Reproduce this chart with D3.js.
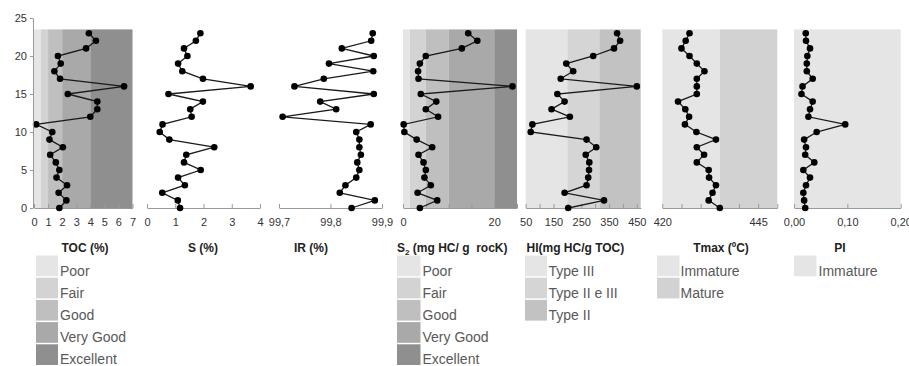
<!DOCTYPE html>
<html>
<head>
<meta charset="utf-8">
<script src="https://cdn.jsdelivr.net/npm/d3@7"></script>
<style>
  html, body { margin: 0; padding: 0; background: #fff; }
  svg { display: block; font-family: "Liberation Sans", Arial, sans-serif; }
  .tick text { font-size: 11px; fill: #333; }
  .legend text { font-size: 14px; fill: #595959; }
  .title { font-size: 12px; font-weight: bold; fill: #222; white-space: pre; }
</style>
</head>
<body>
<div id="chart"></div>
<script>
"use strict";

// depth (m), one sample per metre
const depth = [0, 1, 2, 3, 4, 5, 6, 7, 8, 9, 10, 11, 12, 13, 14, 15, 16, 17, 18, 19, 20, 21, 22, 23];

const toc  = [1.8, 2.3, 1.75, 2.35, 1.6, 1.8, 1.55, 1.15, 2.05, 1.1, 1.3, 0.15, 4.0, 4.5, 4.5, 2.4, 6.4, 1.85, 1.45, 1.9, 1.7, 3.7, 4.4, 3.9];
const sul  = [1.17, 1.09, 0.54, 1.34, 1.10, 1.90, 1.31, 1.39, 2.38, 0.79, 0.45, 0.55, 1.58, 1.53, 1.98, 0.76, 3.67, 1.98, 1.25, 1.10, 1.43, 1.31, 1.73, 1.89];
const ir   = [99.841, 99.886, 99.818, 99.829, 99.850, 99.856, 99.852, 99.859, 99.856, 99.856, 99.850, 99.878, 99.707, 99.811, 99.780, 99.884, 99.730, 99.787, 99.883, 99.797, 99.884, 99.822, 99.879, 99.882];
const s2   = [3.7, 7.5, 3.2, 6.1, 4.7, 5.0, 4.5, 3.4, 6.4, 3.0, 0.3, 0.15, 7.7, 5.0, 7.3, 3.9, 24.0, 3.4, 3.3, 3.7, 5.0, 12.9, 16.3, 14.3];
const hi   = [203, 332, 190, 269, 275, 278, 279, 266, 304, 269, 68, 74, 209, 143, 190, 164, 450, 176, 221, 196, 293, 368, 390, 379];
const tmax = [435.0, 432.1, 433.1, 434.0, 432.2, 432.1, 429.0, 430.9, 429.0, 434.0, 428.9, 425.9, 427.0, 426.0, 424.1, 429.0, 429.0, 429.0, 431.0, 429.0, 427.1, 425.0, 426.1, 427.1];
const pi   = [0.021, 0.019, 0.0175, 0.0225, 0.030, 0.0175, 0.038, 0.021, 0.0225, 0.019, 0.0425, 0.096, 0.027, 0.030, 0.035, 0.014, 0.016, 0.035, 0.024, 0.024, 0.025, 0.030, 0.0225, 0.022];

// tick values and the ones that carry a label
const depthTicks = [0, 5, 10, 15, 20, 25];
const tocTicks   = [0, 1, 2, 3, 4, 5, 6, 7];
const sulTicks   = [0, 1, 2, 3, 4];
const irTicks    = [99.7, 99.8, 99.9];
const s2Ticks    = [0, 5, 10, 15, 20, 25];
const s2Labels   = [0, 20];
const hiTicks    = [50, 100, 150, 200, 250, 300, 350, 400, 450];
const hiLabels   = [50, 150, 250, 350, 450];
const tmaxTicks  = [420, 425, 430, 435, 440, 445, 450];
const tmaxLabels = [420, 445];
const piTicks    = [0, 0.1, 0.2];

// classification zones (edges in data units)
const tocBands  = [0, 0.5, 1, 2, 4, 7];
const s2Bands   = [0, 1.5, 5, 10, 20, 25];
const hiBands   = [50, 200, 315, 464];
const tmaxBands = [420, 435, 450];
const piBands   = [0, 0.2];

const potentialClasses = ["Poor", "Fair", "Good", "Very Good", "Excellent"];
const kerogenClasses   = ["Type III", "Type II e III", "Type II"];
const maturityClasses  = ["Immature", "Mature"];
const piClasses        = ["Immature"];

// ---------------------------------------------------------------------------

const grays5 = ["#e5e5e5", "#d3d3d3", "#bfbfbf", "#a9a9a9", "#8f8f8f"];
const grays3 = ["#e5e5e5", "#d5d5d5", "#c2c2c2"];
const grays2 = ["#e5e5e5", "#d2d2d2"];

const locale = d3.formatLocale({ decimal: ",", thousands: ".", grouping: [3], currency: ["", ""] });

const W = 909, H = 366;
const yBottom = 208, yTop = 18, bandTop = 23.5;

const svg = d3.select("#chart")
              .append("svg")
              .attr("width", W)
              .attr("height", H);

const y = d3.scaleLinear().domain([0, 25]).range([yBottom, yTop]);

const panels = [
  { values: toc,  domain: [0, 7],        range: [34, 132.5],    ticks: tocTicks,  labels: tocTicks,   fmt: d => d,                   bands: tocBands,  colors: grays5 },
  { values: sul,  domain: [0, 4],        range: [147, 260],     ticks: sulTicks,  labels: sulTicks,   fmt: d => d },
  { values: ir,   domain: [99.7, 99.9],  range: [279, 382],     ticks: irTicks,   labels: irTicks,    fmt: locale.format(".1f") },
  { values: s2,   domain: [0, 25],       range: [403, 517],     ticks: s2Ticks,   labels: s2Labels,   fmt: d => d,                   bands: s2Bands,   colors: grays5 },
  { values: hi,   domain: [50, 464],     range: [525.7, 640.7], ticks: hiTicks,   labels: hiLabels,   fmt: d => d,                   bands: hiBands,   colors: grays3 },
  { values: tmax, domain: [420, 450],    range: [662.3, 777.3], ticks: tmaxTicks, labels: tmaxLabels, fmt: d => d,                   bands: tmaxBands, colors: grays2 },
  { values: pi,   domain: [0, 0.2],      range: [794, 900.7],   ticks: piTicks,   labels: piTicks,    fmt: locale.format(".2f"),     bands: piBands,   colors: grays2 }
];

const drawPanel = p => {
  const x = d3.scaleLinear().domain(p.domain).range(p.range);
  const g = svg.append("g");

  if (p.bands) {
    g.selectAll("rect.band")
     .data(d3.pairs(p.bands))
     .enter()
     .append("rect")
     .attr("x", d => x(d[0]))
     .attr("width", d => x(d[1]) - x(d[0]))
     .attr("y", y(bandTop))
     .attr("height", y(0) - y(bandTop))
     .attr("fill", (d, i) => p.colors[i]);
  }

  const axis = d3.axisBottom(x)
                 .tickValues(p.ticks)
                 .tickSize(-4)
                 .tickSizeOuter(0)
                 .tickPadding(10)
                 .tickFormat(d => p.labels.includes(d) ? p.fmt(d) : "");

  g.append("g")
   .attr("transform", `translate(0,${yBottom})`)
   .call(axis)
   .call(a => a.selectAll("path, line").attr("stroke", "#9a9a9a"));

  const pts = depth.map((d, i) => [p.values[i], d]);

  g.append("path")
   .datum(pts)
   .attr("fill", "none")
   .attr("stroke", "#1a1a1a")
   .attr("stroke-width", 1.3)
   .attr("d", d3.line().x(d => x(d[0])).y(d => y(d[1])));

  g.selectAll("circle")
   .data(pts)
   .enter()
   .append("circle")
   .attr("cx", d => x(d[0]))
   .attr("cy", d => y(d[1]))
   .attr("r", 3.3)
   .attr("fill", "#000");
};

panels.forEach(drawPanel);

// depth axis
svg.append("g")
   .attr("transform", "translate(33,0)")
   .call(d3.axisLeft(y).tickValues(depthTicks).tickSize(3).tickSizeOuter(0).tickPadding(3))
   .call(a => a.selectAll("path, line").attr("stroke", "#9a9a9a"));

// ---------------------------------------------------------------------------
// titles + legends

const titles = [
  { x: 61.5,  anchor: "start",  text: "TOC (%)" },
  { x: 203,   anchor: "middle", text: "S (%)" },
  { x: 311,   anchor: "middle", text: "IR (%)" },
  { x: 526.5, anchor: "start",  text: "HI(mg HC/g TOC)" },
  { x: 721,   anchor: "middle", text: "Tmax (ºC)" },
  { x: 840,   anchor: "middle", text: "PI" }
];

svg.selectAll("text.title")
   .data(titles)
   .enter()
   .append("text")
   .classed("title", true)
   .attr("x", d => d.x)
   .attr("y", 252)
   .attr("text-anchor", d => d.anchor)
   .text(d => d.text);

svg.append("text")
   .classed("title", true)
   .attr("x", 397)
   .attr("y", 252)
   .call(t => {
     t.append("tspan").text("S");
     t.append("tspan").attr("font-size", "8px").attr("dy", 3).text("2");
     t.append("tspan").attr("dy", -3).text(" (mg HC/ g  rocK)");
   });

const legends = [
  { x: 36,    w: 22,   tx: 60,    items: potentialClasses, colors: grays5 },
  { x: 397,   w: 23.5, tx: 422.5, items: potentialClasses, colors: grays5 },
  { x: 525,   w: 22,   tx: 548.5, items: kerogenClasses,   colors: grays3 },
  { x: 657,   w: 22.5, tx: 680.5, items: maturityClasses,  colors: grays2 },
  { x: 794,   w: 22.5, tx: 818.5, items: piClasses,        colors: grays2 }
];

const rowTop = 255.5, rowH = 20.7, rowStep = 22.2;

legends.forEach(l => {
  const g = svg.append("g").classed("legend", true);
  const rows = g.selectAll("g")
                .data(l.items)
                .enter()
                .append("g")
                .attr("transform", (d, i) => `translate(0,${rowTop + i * rowStep})`);
  rows.append("rect")
      .attr("x", l.x)
      .attr("width", l.w)
      .attr("height", rowH)
      .attr("fill", (d, i) => l.colors[i]);
  rows.append("text")
      .attr("x", l.tx)
      .attr("y", rowH - 0.5)
      .text(d => d);
});
</script>
</body>
</html>
